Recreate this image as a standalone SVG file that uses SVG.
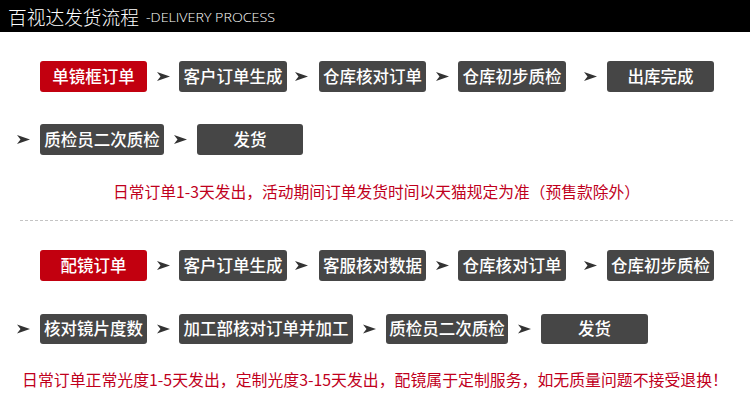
<svg xmlns="http://www.w3.org/2000/svg" width="750" height="418" viewBox="0 0 750 418">
<style>
.hdr{fill:#000}
.box{fill:#464646}
.red{fill:#c2000f}
.bt{font-family:"Noto Sans CJK SC","Liberation Sans",sans-serif;font-size:16.5px;font-weight:500;fill:#fff;text-anchor:middle}
.note{font-family:"Noto Sans CJK SC","Liberation Sans",sans-serif;font-size:15.5px;fill:#c0001c}
.arr{fill:#333}
</style>
<defs>
<path id="ah" d="M0,-4.5 L13,0 L0,4.5 L3.5,0 Z"/>
</defs>
<rect width="750" height="418" fill="#fff"/>
<g id="header">
<rect class="hdr" x="0" y="0" width="750" height="32"/>
<text x="8" y="24.5" font-family="Noto Sans CJK SC,sans-serif" font-size="19.5" font-weight="300" fill="#fff" textLength="131" lengthAdjust="spacingAndGlyphs">百视达发货流程</text>
<text x="146" y="21.5" font-family="Open Sans,Liberation Sans,sans-serif" font-size="13.5" font-weight="300" fill="#fff" textLength="129" lengthAdjust="spacingAndGlyphs">-DELIVERY PROCESS</text>
</g>

<g id="connectors" class="arr">
<use href="#ah" x="157" y="76.5"/>
<use href="#ah" x="295" y="76.5"/>
<use href="#ah" x="436" y="76.5"/>
<use href="#ah" x="584" y="76.5"/>
<use href="#ah" x="17" y="139.5"/>
<use href="#ah" x="174" y="139.5"/>
<use href="#ah" x="157" y="265.5"/>
<use href="#ah" x="295" y="265.5"/>
<use href="#ah" x="436" y="265.5"/>
<use href="#ah" x="584" y="265.5"/>
<use href="#ah" x="17" y="329"/>
<use href="#ah" x="157" y="329"/>
<use href="#ah" x="363" y="329"/>
<use href="#ah" x="518" y="329"/>
</g>

<g id="n1"><rect class="red" x="40" y="61" width="107" height="31" rx="3"/><text class="bt" x="93.5" y="82.5">单镜框订单</text></g>
<g id="n2"><rect class="box" x="179" y="61" width="108" height="31" rx="3"/><text class="bt" x="233" y="82.5">客户订单生成</text></g>
<g id="n3"><rect class="box" x="319" y="61" width="107" height="31" rx="3"/><text class="bt" x="372.5" y="82.5">仓库核对订单</text></g>
<g id="n4"><rect class="box" x="458" y="61" width="108" height="31" rx="3"/><text class="bt" x="512" y="82.5">仓库初步质检</text></g>
<g id="n5"><rect class="box" x="607" y="61" width="107" height="31" rx="3"/><text class="bt" x="660.5" y="82.5">出库完成</text></g>
<g id="n6"><rect class="box" x="40" y="124" width="124" height="31" rx="3"/><text class="bt" x="102" y="145.5">质检员二次质检</text></g>
<g id="n7"><rect class="box" x="197" y="124" width="106" height="31" rx="3"/><text class="bt" x="250" y="145.5">发货</text></g>

<text id="note1" class="note" x="113" y="197.5" textLength="527" lengthAdjust="spacingAndGlyphs">日常订单1-3天发出，活动期间订单发货时间以天猫规定为准（预售款除外）</text>

<line x1="20" y1="220.5" x2="733" y2="220.5" stroke="#c4c4c4" stroke-width="1" stroke-dasharray="3,2"/>

<g id="m1"><rect class="red" x="40" y="250" width="107" height="31" rx="3"/><text class="bt" x="93.5" y="271.5">配镜订单</text></g>
<g id="m2"><rect class="box" x="179" y="250" width="108" height="31" rx="3"/><text class="bt" x="233" y="271.5">客户订单生成</text></g>
<g id="m3"><rect class="box" x="319" y="250" width="107" height="31" rx="3"/><text class="bt" x="372.5" y="271.5">客服核对数据</text></g>
<g id="m4"><rect class="box" x="458" y="250" width="108" height="31" rx="3"/><text class="bt" x="512" y="271.5">仓库核对订单</text></g>
<g id="m5"><rect class="box" x="607" y="250" width="107" height="31" rx="3"/><text class="bt" x="660.5" y="271.5">仓库初步质检</text></g>
<g id="m6"><rect class="box" x="40" y="314" width="107" height="30" rx="3"/><text class="bt" x="93.5" y="335">核对镜片度数</text></g>
<g id="m7"><rect class="box" x="179" y="314" width="174" height="30" rx="3"/><text class="bt" x="266" y="335">加工部核对订单并加工</text></g>
<g id="m8"><rect class="box" x="386" y="314" width="122" height="30" rx="3"/><text class="bt" x="447" y="335">质检员二次质检</text></g>
<g id="m9"><rect class="box" x="541" y="314" width="107" height="30" rx="3"/><text class="bt" x="594.5" y="335">发货</text></g>

<text id="note2" class="note" x="22" y="386" textLength="706" lengthAdjust="spacingAndGlyphs">日常订单正常光度1-5天发出，定制光度3-15天发出，配镜属于定制服务，如无质量问题不接受退换！</text>
</svg>
